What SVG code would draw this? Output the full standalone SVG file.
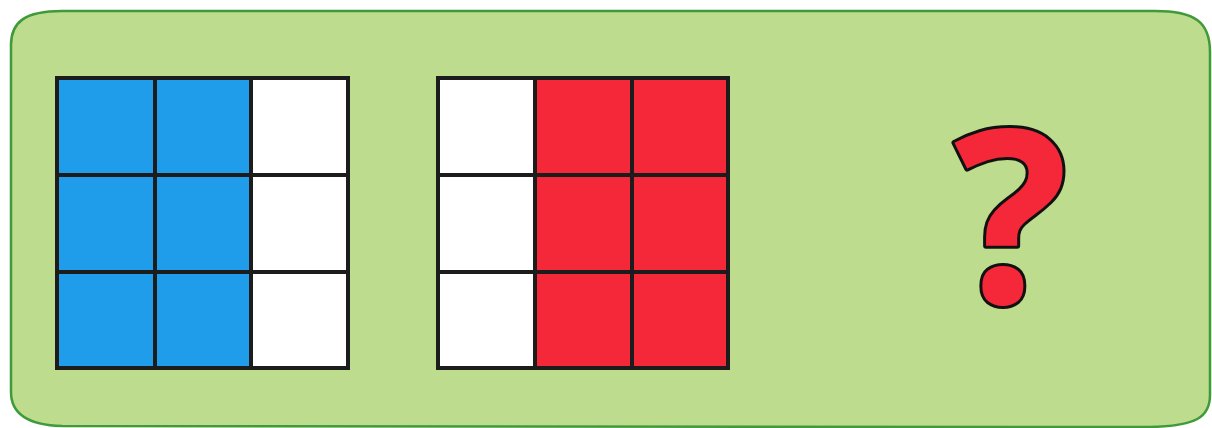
<svg xmlns="http://www.w3.org/2000/svg" width="1212" height="428" viewBox="0 0 1212 428">
<style>
.bg{fill:#bedc8d;stroke:#3f9a3a;stroke-width:2.5}
.blue{fill:#1f9cea}
.red{fill:#f5283a}
.white{fill:#ffffff}
.grid{fill:none;stroke:#1c1c1c;stroke-width:4}
.q{font-family:"Open Sans","Liberation Sans",sans-serif;font-weight:bold;font-size:240px;fill:#f5283a;stroke:#111;stroke-width:6;paint-order:stroke;stroke-linejoin:round}
</style>
<path class="bg" d="M62,11 L1155,11 C1195,11 1210,22 1210,52 L1210,395 C1210,418 1195,426 1150,427 L62,426 C25,425 11,412 11,392 L11,45 C11,22 25,11 62,11 Z"/>
<g id="grid-blue">
<rect class="blue" x="57" y="78" width="194" height="290"/>
<rect class="white" x="251" y="78" width="97" height="290"/>
<rect class="grid" x="57" y="78" width="291" height="290"/>
<path class="grid" d="M155,78V368M251,78V368M57,175H348M57,272H348"/>
</g>
<g id="grid-red">
<rect class="white" x="438" y="78" width="97" height="290"/>
<rect class="red" x="535" y="78" width="193" height="290"/>
<rect class="grid" x="438" y="78" width="290" height="290"/>
<path class="grid" d="M535,78V368M632,78V368M438,175H728M438,272H728"/>
</g>
<g id="question">
<text class="q" x="1011" y="303" text-anchor="middle">?</text>
</g>
</svg>
